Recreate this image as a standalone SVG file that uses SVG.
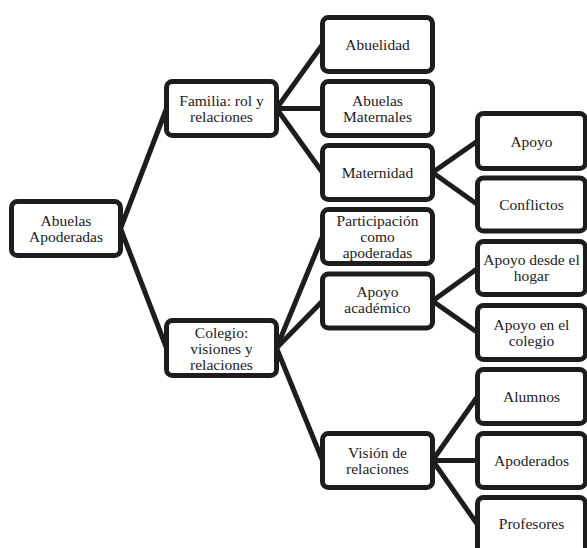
<svg xmlns="http://www.w3.org/2000/svg" width="587" height="548" viewBox="0 0 587 548">
<style>
.box{fill:#fff;stroke:#1f1c1d;stroke-width:5}
text{font-family:'Liberation Serif',serif;font-size:15.5px;fill:#222;text-anchor:middle}
.con{stroke:#1f1c1d;stroke-width:5;fill:none;stroke-linecap:butt}
</style>
<rect width="587" height="548" fill="#fff"/>
<g id="connectors" class="con">
<line x1="120.5" y1="228.5" x2="166.5" y2="108.5"/>
<line x1="120.5" y1="228.5" x2="166.5" y2="348"/>
<line x1="276.5" y1="108.5" x2="322.5" y2="44.5"/>
<line x1="276.5" y1="108.5" x2="322.5" y2="108.5"/>
<line x1="276.5" y1="108.5" x2="322.5" y2="172.5"/>
<line x1="432.5" y1="172.5" x2="477.5" y2="141"/>
<line x1="432.5" y1="172.5" x2="477.5" y2="204.5"/>
<line x1="276.5" y1="348" x2="322.5" y2="236.5"/>
<line x1="276.5" y1="348" x2="322.5" y2="301"/>
<line x1="276.5" y1="348" x2="322.5" y2="460.5"/>
<line x1="432.5" y1="301" x2="477.5" y2="268.5"/>
<line x1="432.5" y1="301" x2="477.5" y2="332.5"/>
<line x1="432.5" y1="460.5" x2="477.5" y2="396.5"/>
<line x1="432.5" y1="460.5" x2="477.5" y2="460.5"/>
<line x1="432.5" y1="460.5" x2="477.5" y2="524.5"/>
</g>
<g id="n-abuelas-apoderadas">
<rect class="box" x="11.5" y="201.5" width="109" height="54" rx="6"/>
<text x="66" y="226">Abuelas</text>
<text x="66" y="242">Apoderadas</text>
</g>
<g id="n-familia">
<rect class="box" x="166.5" y="81.5" width="110" height="54" rx="6"/>
<text x="221.5" y="106">Familia: rol y</text>
<text x="221.5" y="122">relaciones</text>
</g>
<g id="n-colegio">
<rect class="box" x="166.5" y="320.5" width="110" height="55" rx="6"/>
<text x="221.5" y="337.5">Colegio:</text>
<text x="221.5" y="353.5">visiones y</text>
<text x="221.5" y="369.5">relaciones</text>
</g>
<g id="n-abuelidad">
<rect class="box" x="322.5" y="17.5" width="110" height="54" rx="6"/>
<text x="377.5" y="50">Abuelidad</text>
</g>
<g id="n-abuelas-maternales">
<rect class="box" x="322.5" y="81.5" width="110" height="54" rx="6"/>
<text x="377.5" y="106">Abuelas</text>
<text x="377.5" y="122">Maternales</text>
</g>
<g id="n-maternidad">
<rect class="box" x="322.5" y="145.5" width="110" height="54" rx="6"/>
<text x="377.5" y="178">Maternidad</text>
</g>
<g id="n-participacion">
<rect class="box" x="322.5" y="209.5" width="110" height="54" rx="6"/>
<text x="377.5" y="225.5">Participación</text>
<text x="377.5" y="241.5">como</text>
<text x="377.5" y="257.5">apoderadas</text>
</g>
<g id="n-apoyo-academico">
<rect class="box" x="322.5" y="274" width="110" height="54" rx="6"/>
<text x="377.5" y="297">Apoyo</text>
<text x="377.5" y="313">académico</text>
</g>
<g id="n-vision">
<rect class="box" x="322.5" y="433.5" width="110" height="54" rx="6"/>
<text x="377.5" y="458">Visión de</text>
<text x="377.5" y="474">relaciones</text>
</g>
<g id="n-apoyo">
<rect class="box" x="477.5" y="113.5" width="108" height="55" rx="6"/>
<text x="531.5" y="146.5">Apoyo</text>
</g>
<g id="n-conflictos">
<rect class="box" x="477.5" y="178" width="108" height="53" rx="6"/>
<text x="531.5" y="210">Conflictos</text>
</g>
<g id="n-apoyo-hogar">
<rect class="box" x="477.5" y="241.5" width="108" height="53" rx="6"/>
<text x="531.5" y="265">Apoyo desde el</text>
<text x="531.5" y="281">hogar</text>
</g>
<g id="n-apoyo-colegio">
<rect class="box" x="477.5" y="305.5" width="108" height="54" rx="6"/>
<text x="531.5" y="330">Apoyo en el</text>
<text x="531.5" y="346">colegio</text>
</g>
<g id="n-alumnos">
<rect class="box" x="477.5" y="369.5" width="108" height="54" rx="6"/>
<text x="531.5" y="402">Alumnos</text>
</g>
<g id="n-apoderados">
<rect class="box" x="477.5" y="433.5" width="108" height="54" rx="6"/>
<text x="531.5" y="466">Apoderados</text>
</g>
<g id="n-profesores">
<rect class="box" x="477.5" y="497.5" width="108" height="56" rx="6"/>
<text x="531.5" y="529">Profesores</text>
</g>
</svg>
